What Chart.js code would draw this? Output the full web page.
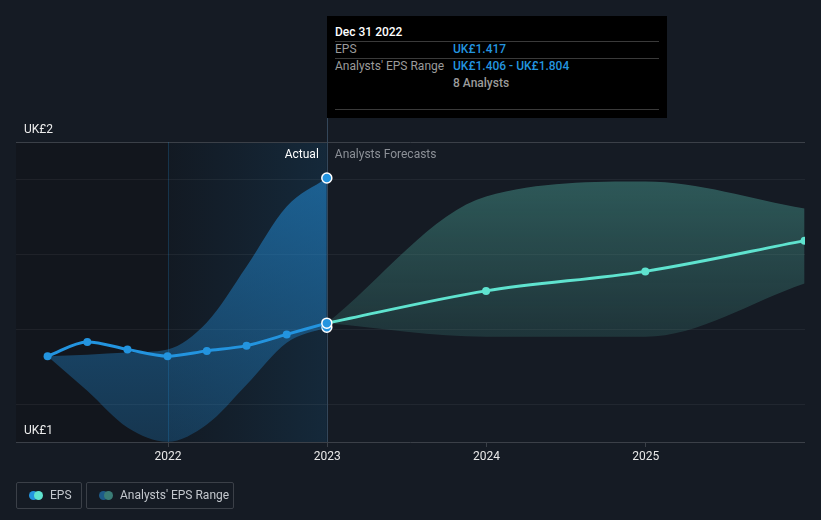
<!DOCTYPE html>
<html>
<head>
<meta charset="utf-8">
<script src="https://cdn.jsdelivr.net/npm/chart.js@4.4.0/dist/chart.umd.min.js"></script>
<style>
  html, body { margin: 0; padding: 0; background: #151b24; font-family: Roboto, "Open Sans", sans-serif; }
  #wrap { position: relative; width: 821px; height: 520px; overflow: hidden; }
  canvas { position: absolute; left: 0; top: 0; }
  #tip { position: absolute; left: 327px; top: 16px; width: 340px; height: 102px; background: #000; font-size: 12px; }
  #tip div { position: absolute; white-space: nowrap; line-height: 14px; }
  #tip .sep { height: 1px; background: #3a3a3a; left: 8px; width: 324px; }
  #tip .lbl { color: #9b9b9b; left: 8px; }
  #tip .val { color: #2394df; left: 126px; font-weight: 500; }
  .leg { position: absolute; top: 482px; height: 25px; border: 1px solid #3b4048; border-radius: 2px; color: #c3c7cd; font-size: 12px; line-height: 25px; }
  .leg span.t { position: absolute; top: 0; }
  .dot { position: absolute; top: 8px; width: 9px; height: 9px; border-radius: 50%; }
</style>
</head>
<body>
<div id="wrap">
  <canvas id="c" width="821" height="520"></canvas>
  <div id="tip">
    <div id="tipTitle" style="left:8px; top:9px; color:#fff; font-weight:500;"></div>
    <div class="sep" style="top:25px;"></div>
    <div class="lbl" style="top:26px;">EPS</div>
    <div class="val" id="tipEps" style="top:26px;"></div>
    <div class="sep" style="top:42px;"></div>
    <div class="lbl" style="top:43px;">Analysts' EPS Range</div>
    <div class="val" id="tipRange" style="top:43px;"></div>
    <div id="tipCount" style="left:126px; top:60px; color:#9b9b9b; font-weight:500;"></div>
    <div class="sep" style="top:93px;"></div>
  </div>
  <div class="leg" style="left:16px; width:64px;">
    <span class="dot" style="left:12px; background:#2394df;"></span>
    <span class="dot" style="left:17px; background:#5fe3cf;"></span>
    <span class="t" style="left:33px;">EPS</span>
  </div>
  <div class="leg" style="left:86px; width:146px;">
    <span class="dot" style="left:12px; background:#1d5a88;"></span>
    <span class="dot" style="left:17px; background:#3a7c76;"></span>
    <span class="t" style="left:33px;">Analysts' EPS Range</span>
  </div>
</div>
<script>
// actual EPS (quarterly, trailing)
const actualDates = ['2021-03-31', '2021-06-30', '2021-09-30', '2021-12-31', '2022-03-31', '2022-06-30', '2022-09-30', '2022-12-31'];
const epsActual = [1.329, 1.367, 1.347, 1.329, 1.343, 1.357, 1.387, 1.417];
const actualHigh = [1.329, 1.333, 1.339, 1.347, 1.419, 1.568, 1.728, 1.804];
const actualLow = [1.329, 1.237, 1.139, 1.101, 1.147, 1.253, 1.365, 1.406];

// analyst forecasts
const forecastDates = ['2022-12-31', '2023-12-31', '2024-12-31', '2025-12-31'];
const epsForecast = [1.417, 1.503, 1.555, 1.637];
const forecastHigh = [1.417, 1.755, 1.795, 1.723];
const forecastLow = [1.417, 1.381, 1.381, 1.523];

const yearTicks = [2022, 2023, 2024, 2025];
const analystCount = 8;
const currency = 'UK£';

const BLUE = '#2394df';
const TEAL = '#5fe3cf';

function toYear(s) {
  const [y, m, d] = s.split('-').map(Number);
  const start = Date.UTC(y, 0, 1), end = Date.UTC(y + 1, 0, 1);
  return y + (Date.UTC(y, m - 1, d) - start) / (end - start);
}
function pts(dates, vals) {
  return dates.map((d, i) => ({ x: toYear(d), y: vals[i] }));
}

const last = epsActual.length - 1;
document.getElementById('tipTitle').textContent = 'Dec 31 2022';
document.getElementById('tipEps').textContent = currency + epsActual[last].toFixed(3);
document.getElementById('tipRange').textContent = currency + actualLow[last].toFixed(3) + ' - ' + currency + actualHigh[last].toFixed(3);
document.getElementById('tipCount').textContent = analystCount + ' Analysts';

function vGrad(ctx, y0, y1, c0, c1) {
  const { chart } = ctx;
  const ys = chart.scales.y;
  if (!ys || !chart.chartArea) return c0;
  const g = chart.ctx.createLinearGradient(0, ys.getPixelForValue(y0), 0, ys.getPixelForValue(y1));
  g.addColorStop(0, c0);
  g.addColorStop(1, c1);
  return g;
}

const bgPlugin = {
  id: 'bg',
  beforeDraw(chart) {
    const { ctx, chartArea: a, scales: { x } } = chart;
    const x22 = x.getPixelForValue(2022);
    const xNow = x.getPixelForValue(toYear(actualDates[last]));
    ctx.save();
    ctx.fillStyle = '#12161d';
    ctx.fillRect(a.left, a.top, x22 - a.left, a.bottom - a.top);
    const g = ctx.createLinearGradient(x22, 0, xNow, 0);
    g.addColorStop(0, 'rgba(35,148,223,0.02)');
    g.addColorStop(1, 'rgba(35,148,223,0.14)');
    ctx.fillStyle = '#12171f';
    ctx.fillRect(x22, a.top, xNow - x22, a.bottom - a.top);
    ctx.fillStyle = g;
    ctx.fillRect(x22, a.top, xNow - x22, a.bottom - a.top);
    ctx.restore();
  },
  beforeDatasetsDraw(chart) {
    const { ctx, chartArea: a, scales: { x } } = chart;
    const x22 = Math.round(x.getPixelForValue(2022)) + 0.5;
    const xNow = Math.round(x.getPixelForValue(toYear(actualDates[last]))) + 0.5;
    ctx.save();
    ctx.lineWidth = 1;
    ctx.strokeStyle = 'rgba(35,148,223,0.22)';
    ctx.beginPath(); ctx.moveTo(x22, a.top); ctx.lineTo(x22, a.bottom); ctx.stroke();
    ctx.strokeStyle = '#34475a';
    ctx.beginPath(); ctx.moveTo(xNow, 118); ctx.lineTo(xNow, a.bottom); ctx.stroke();
    ctx.restore();
  },
  afterDraw(chart) {
    const { ctx, chartArea: a, scales: { x } } = chart;
    const xNow = x.getPixelForValue(toYear(actualDates[last]));
    ctx.save();
    ctx.font = '12px Roboto';
    ctx.textBaseline = 'middle';
    ctx.fillStyle = '#ffffff';
    ctx.textAlign = 'right';
    ctx.fillText('Actual', xNow - 8, a.top + 13);
    ctx.fillStyle = '#8c9097';
    ctx.textAlign = 'left';
    ctx.fillText('Analysts Forecasts', xNow + 8, a.top + 13);
    ctx.fillStyle = '#ececec';
    ctx.fillText(currency + '2', 24, a.top - 12);
    ctx.fillText(currency + '1', 24, a.bottom - 11);
    ctx.restore();
  }
};

const isLast = ctx => ctx.dataIndex === last;

new Chart(document.getElementById('c'), {
  type: 'line',
  data: {
    datasets: [
      {
        label: 'EPS',
        data: pts(actualDates, epsActual),
        borderColor: BLUE,
        borderWidth: 3,
        pointRadius: ctx => isLast(ctx) ? 5 : 4,
        pointBackgroundColor: BLUE,
        pointBorderColor: ctx => isLast(ctx) ? '#ffffff' : BLUE,
        pointBorderWidth: ctx => isLast(ctx) ? 1.5 : 0,
        cubicInterpolationMode: 'monotone',
        fill: false
      },
      {
        label: 'EPS forecast',
        data: pts(forecastDates, epsForecast),
        borderColor: TEAL,
        borderWidth: 3,
        pointRadius: ctx => ctx.dataIndex === 0 ? 0 : 4,
        pointBackgroundColor: TEAL,
        pointBorderWidth: 0,
        cubicInterpolationMode: 'monotone',
        fill: false
      },
      {
        label: 'Range high',
        data: pts(actualDates, actualHigh),
        borderWidth: 0,
        borderColor: 'transparent',
        backgroundColor: ctx => vGrad(ctx, 1.8, 1.1, 'rgba(34,140,215,0.56)', 'rgba(34,140,215,0.27)'),
        pointRadius: ctx => isLast(ctx) ? 5 : 0,
        pointBackgroundColor: BLUE,
        pointBorderColor: '#ffffff',
        pointBorderWidth: 1.5,
        cubicInterpolationMode: 'monotone',
        fill: '+1'
      },
      {
        label: 'Range low',
        data: pts(actualDates, actualLow),
        borderWidth: 0,
        borderColor: 'transparent',
        pointRadius: ctx => isLast(ctx) ? 5 : 0,
        pointBackgroundColor: BLUE,
        pointBorderColor: '#ffffff',
        pointBorderWidth: 1.5,
        cubicInterpolationMode: 'monotone',
        fill: false
      },
      {
        label: 'Forecast high',
        data: pts(forecastDates, forecastHigh),
        borderWidth: 0,
        borderColor: 'transparent',
        backgroundColor: ctx => vGrad(ctx, 1.8, 1.4, 'rgba(66,140,132,0.55)', 'rgba(66,140,132,0.24)'),
        pointRadius: 0,
        cubicInterpolationMode: 'monotone',
        fill: '+1'
      },
      {
        label: 'Forecast low',
        data: pts(forecastDates, forecastLow),
        borderWidth: 0,
        borderColor: 'transparent',
        pointRadius: 0,
        cubicInterpolationMode: 'monotone',
        fill: false
      }
    ]
  },
  options: {
    responsive: false,
    animation: false,
    devicePixelRatio: 1,
    layout: { padding: { left: 16, right: 16, top: 142, bottom: 48 } },
    plugins: { legend: { display: false }, tooltip: { enabled: false } },
    events: [],
    scales: {
      x: {
        type: 'linear',
        min: 2021.0455,
        max: 2026,
        afterBuildTicks: s => { s.ticks = yearTicks.map(v => ({ value: v })); },
        afterFit: s => { s.height = 30; },
        ticks: { color: '#e8e8e8', font: { family: 'Roboto', size: 12 }, padding: 3, callback: v => String(v) },
        grid: { drawOnChartArea: false, drawTicks: true, tickLength: 5, color: '#3b4048' },
        border: { display: false }
      },
      y: {
        min: 1.1,
        max: 1.9,
        afterFit: s => { s.width = 0; },
        ticks: { display: false, stepSize: 0.1 },
        grid: {
          drawTicks: false,
          color: ctx => {
            const v = Math.round(ctx.tick.value * 10);
            if (v === 11 || v === 19) return '#3b4048';
            if (v % 2 === 0) return 'rgba(255,255,255,0.055)';
            return 'transparent';
          }
        },
        border: { display: false }
      }
    }
  },
  plugins: [bgPlugin]
});
</script>
</body>
</html>
